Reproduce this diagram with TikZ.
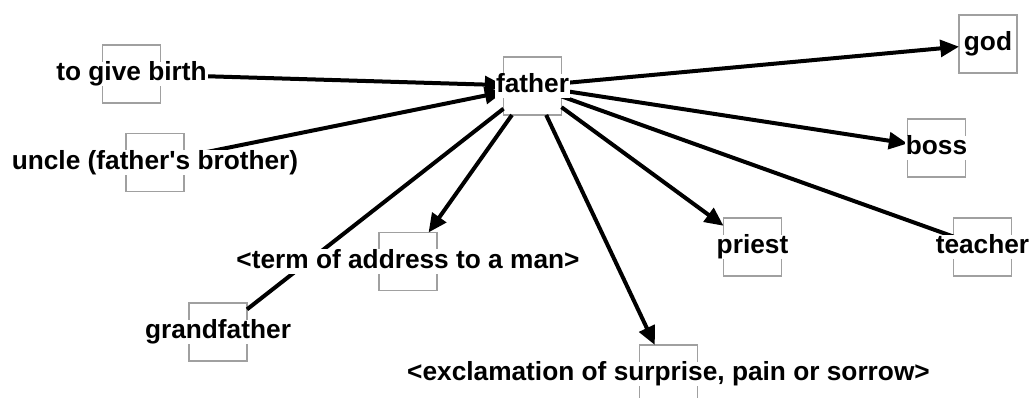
\documentclass[tikz,border=0pt]{standalone}
\usepackage{fontspec}
\newfontfamily\labelfont{Liberation Sans}[BoldFont={Liberation Sans Bold}]
\usetikzlibrary{arrows.meta}
\definecolor{boxgray}{RGB}{160,160,160}

\begin{document}
\begin{tikzpicture}[x=0.75pt,y=-0.75pt,
  concept/.style={rectangle, draw=boxgray, line width=0.9pt, minimum size=43.5pt,
    inner sep=0pt, outer sep=0pt},
  word/.style={fill=white, inner xsep=1pt, inner ysep=0pt, outer sep=0pt,
    text height=14pt, text depth=4.2pt,
    font=\labelfont\bfseries\fontsize{19.7}{22}\selectfont},
  link/.style={line width=3pt},
  arrow/.style={link, -{Triangle[length=14pt,width=12.5pt]}}
]
\useasboundingbox (0,0) rectangle (1032,398);

% concept boxes
\node[concept] (birth)       at (131.5, 74)  {};
\node[concept] (uncle)       at (155, 162.5) {};
\node[concept] (father)      at (532.5, 86)  {};
\node[concept] (god)         at (988, 44)    {};
\node[concept] (boss)        at (936.5, 148) {};
\node[concept] (term)        at (408, 261.5) {};
\node[concept] (grandfather) at (218, 332)   {};
\node[concept] (priest)      at (752.5, 247) {};
\node[concept] (teacher)     at (982.5, 247) {};
\node[concept] (excl)        at (668.5, 374) {};

% links between concepts
\draw[arrow] (birth)  -- (father);
\draw[arrow] (uncle)  -- (father);
\draw[arrow] (father) -- (god);
\draw[arrow] (father) -- (boss);
\draw[link]  (father) -- (teacher);
\draw[arrow] (father) -- (priest);
\draw[arrow] (father) -- (excl);
\draw[arrow] (father) -- (term);
\draw[link]  (father) -- (grandfather);

% labels on top of boxes and links
\node[word] (birthT)       at (birth)       {to give birth};
\node[word] (uncleT)       at (uncle)       {uncle (father's brother)};
\node[word] (fatherT)      at (father)      {father};
\node[word] (godT)         at (god)         {god};
\node[word] (bossT)        at (boss)        {boss};
\node[word] (termT)        at (term)        {<term of address to a man>};
\node[word] (grandfatherT) at (grandfather) {grandfather};
\node[word] (priestT)      at (priest)      {priest};
\node[word] (teacherT)     at (teacher)     {teacher};
\node[word] (exclT)        at (excl)        {<exclamation of surprise, pain or sorrow>};
\end{tikzpicture}
\end{document}
